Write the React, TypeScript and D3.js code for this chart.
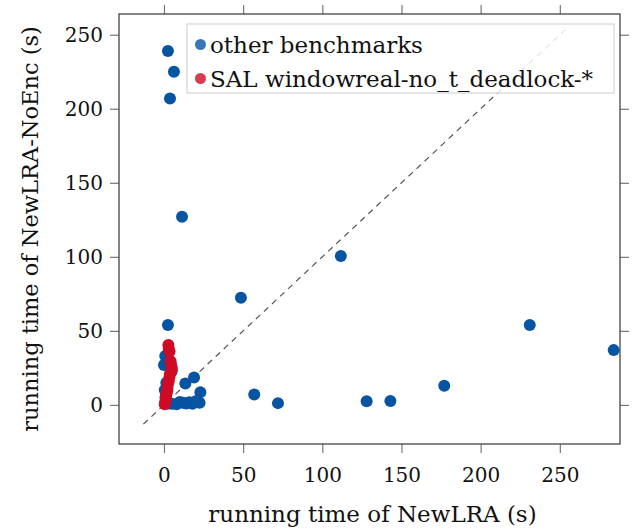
import React, { useEffect, useRef } from 'react';
import * as d3 from 'd3';

// other benchmarks
const otherX = [2.5, 6.3, 3.8, 11.4, 111.7, 48.6, 2.5, 231, 284, 177, 57, 72, 128, 143, 13.5, 19, 23, 22.5, 16, 12, 8, 4.8, 0.8, 0, 0.5, 1, 2, 3, 5, 10, 14, 18, 20, 1.5];
const otherY = [239, 225, 207, 127, 100.5, 72.3, 54, 54, 37, 13, 7, 1.2, 2.5, 2.7, 14.5, 18.5, 8.5, 1.5, 1.8, 1.5, 0.5, 22.5, 33, 27, 10, 5, 2, 1, 0.8, 2, 1, 0.8, 2.5, 15];

// SAL windowreal-no_t_deadlock-*
const salX = [2.8, 3, 3.5, 4.2, 4.5, 5, 4.8, 3.8, 3, 2.5, 2, 1.5, 1.2, 1, 0.8, 0.5, 2.2, 3.5];
const salY = [40.5, 38, 36, 29.5, 27, 25, 23, 21, 16, 14, 9, 7, 5, 3, 1.5, 0.5, 11, 19];

const ticks = [0, 50, 100, 150, 200, 250];
const diag = [-13, 256];
const legendLabels = ['other benchmarks', 'SAL windowreal-no_t_deadlock-*'];

const BLUE = '#0754a3';
const RED = '#cf0a24';
const FONT = '"DejaVu Serif", serif';

const App = () => {
  const svgRef = useRef<SVGSVGElement>(null);

  useEffect(() => {
    const W = 632, H = 532;
    const margin = { top: 14, right: 12, bottom: 88, left: 119 };
    const width = W - margin.left - margin.right;
    const height = H - margin.top - margin.bottom;

    const svg = d3.select(svgRef.current);
    svg.selectAll('*').remove();

    const g = svg.append('g').attr('transform', `translate(${margin.left},${margin.top})`);

    const x = d3.scaleLinear().domain([-28.4, 288]).range([0, width]);
    const y = d3.scaleLinear().domain([-26.4, 264]).range([height, 0]);

    const styleAxis = (sel, labels) => {
      sel.select('.domain').remove();
      sel.selectAll('line').attr('stroke', '#777').attr('stroke-width', 1.2);
      sel.selectAll('text')
        .style('font-family', FONT)
        .style('font-size', '20px')
        .attr('fill', '#111');
      if (!labels) sel.selectAll('text').remove();
    };

    g.append('g').attr('transform', `translate(0,${height})`)
      .call(d3.axisBottom(x).tickValues(ticks).tickSize(9).tickPadding(15))
      .call(s => styleAxis(s, true));
    g.append('g')
      .call(d3.axisTop(x).tickValues(ticks).tickSize(9))
      .call(s => styleAxis(s, false));
    g.append('g')
      .call(d3.axisLeft(y).tickValues(ticks).tickSize(9).tickPadding(7))
      .call(s => styleAxis(s, true));
    g.append('g').attr('transform', `translate(${width},0)`)
      .call(d3.axisRight(y).tickValues(ticks).tickSize(9))
      .call(s => styleAxis(s, false));

    g.append('rect')
      .attr('width', width).attr('height', height)
      .attr('fill', 'none').attr('stroke', '#444').attr('stroke-width', 1.3);

    g.append('line')
      .attr('x1', x(diag[0])).attr('y1', y(diag[0]))
      .attr('x2', x(diag[1])).attr('y2', y(diag[1]))
      .attr('stroke', '#555').attr('stroke-width', 1.2)
      .attr('stroke-dasharray', '6,5');

    const other = otherX.map((v, i) => [v, otherY[i]]);
    const sal = salX.map((v, i) => [v, salY[i]]);

    g.selectAll('.other').data(other).enter().append('circle')
      .attr('cx', d => x(d[0])).attr('cy', d => y(d[1]))
      .attr('r', 6).attr('fill', BLUE);
    g.selectAll('.sal').data(sal).enter().append('circle')
      .attr('cx', d => x(d[0])).attr('cy', d => y(d[1]))
      .attr('r', 6).attr('fill', RED);

    // legend
    const lg = svg.append('g').attr('transform', 'translate(187,24)');
    lg.append('rect')
      .attr('width', 427).attr('height', 69)
      .attr('fill', 'white').attr('fill-opacity', 0.85)
      .attr('stroke', '#ccc').attr('stroke-width', 1);
    [BLUE, RED].forEach((c, i) => {
      lg.append('circle')
        .attr('cx', 13.5).attr('cy', 20.5 + i * 34).attr('r', 5.5)
        .attr('fill', c).attr('opacity', 0.8);
      lg.append('text')
        .attr('x', 23).attr('y', 20.5 + i * 34).attr('dy', '0.35em')
        .style('font-family', FONT).style('font-size', '23px')
        .attr('fill', '#111')
        .text(legendLabels[i]);
    });

    svg.append('text')
      .attr('x', margin.left + width / 2 + 3).attr('y', 522)
      .attr('text-anchor', 'middle')
      .style('font-family', FONT).style('font-size', '23px')
      .attr('fill', '#111')
      .text('running time of NewLRA (s)');

    svg.append('text')
      .attr('transform', `translate(38,${margin.top + height / 2}) rotate(-90)`)
      .attr('text-anchor', 'middle')
      .style('font-family', FONT).style('font-size', '22.5px')
      .attr('fill', '#111')
      .text('running time of NewLRA-NoEnc (s)');
  }, []);

  return (
    <svg ref={svgRef} width={632} height={532}
      style={{ position: 'absolute', left: 0, top: 0, background: 'white' }} />
  );
};

export default App;
